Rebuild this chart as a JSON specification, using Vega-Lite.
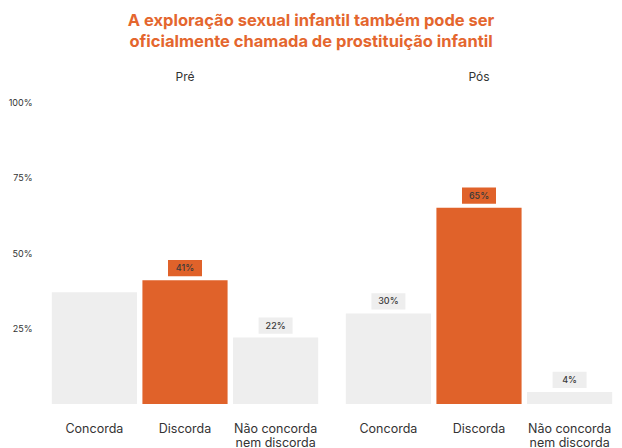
{
  "$schema": "https://vega.github.io/schema/vega-lite/v6.json",
  "background": "white",
  "padding": {"left": 8, "top": 12, "right": 5, "bottom": 0},
  "config": {
    "font": "Inter",
    "view": {"stroke": null},
    "title": {"font": "Inter"}
  },
  "title": {
    "text": ["A exploração sexual infantil também pode ser", "oficialmente chamada de prostituição infantil"],
    "color": "#E4662E",
    "fontSize": 16.5,
    "fontWeight": "bold",
    "lineHeight": 21,
    "anchor": "middle",
    "offset": 21
  },
  "data": {
    "values": [
      {"fase": "Pré", "resposta": "Concorda", "valor": 0.37, "rotulo": false},
      {"fase": "Pré", "resposta": "Discorda", "valor": 0.41, "rotulo": true},
      {"fase": "Pré", "resposta": "Não concorda|nem discorda", "valor": 0.22, "rotulo": true},
      {"fase": "Pós", "resposta": "Concorda", "valor": 0.30, "rotulo": true},
      {"fase": "Pós", "resposta": "Discorda", "valor": 0.65, "rotulo": true},
      {"fase": "Pós", "resposta": "Não concorda|nem discorda", "valor": 0.04, "rotulo": true}
    ]
  },
  "facet": {
    "column": {
      "field": "fase",
      "type": "nominal",
      "sort": ["Pré", "Pós"],
      "header": {
        "title": null,
        "labelFontSize": 12,
        "labelColor": "#333333",
        "labelPadding": 18
      }
    }
  },
  "spacing": 24,
  "spec": {
    "width": 270,
    "height": 302,
    "encoding": {
      "x": {
        "field": "resposta",
        "type": "nominal",
        "sort": ["Concorda", "Discorda", "Não concorda|nem discorda"],
        "scale": {"paddingInner": 0.06, "paddingOuter": 0.02},
        "axis": {
          "title": null,
          "labelAngle": 0,
          "domain": false,
          "ticks": false,
          "labelFontSize": 12.5,
          "labelColor": "#333333",
          "labelPadding": 18,
          "labelLineHeight": 14,
          "labelExpr": "split(datum.label, '|')"
        }
      },
      "y": {
        "field": "valor",
        "type": "quantitative",
        "scale": {"domain": [0, 1]},
        "axis": {
          "title": null,
          "values": [0.25, 0.5, 0.75, 1],
          "format": ".0%",
          "domain": false,
          "ticks": false,
          "grid": false,
          "labelFontSize": 9,
          "labelColor": "#333333",
          "labelPadding": 18
        }
      }
    },
    "layer": [
      {
        "mark": {"type": "bar"},
        "encoding": {
          "color": {
            "field": "resposta",
            "type": "nominal",
            "scale": {
              "domain": ["Concorda", "Discorda", "Não concorda|nem discorda"],
              "range": ["#EEEEEE", "#E0622A", "#EEEEEE"]
            },
            "legend": null
          }
        }
      },
      {
        "transform": [{"filter": "datum.rotulo"}],
        "mark": {
          "type": "point",
          "shape": "M-1,-0.48H1V0.48H-1Z",
          "size": 1156,
          "filled": true,
          "opacity": 1,
          "strokeWidth": 0,
          "yOffset": -12
        },
        "encoding": {
          "color": {
            "field": "resposta",
            "type": "nominal",
            "scale": {
              "domain": ["Concorda", "Discorda", "Não concorda|nem discorda"],
              "range": ["#EEEEEE", "#E0622A", "#EEEEEE"]
            },
            "legend": null
          }
        }
      },
      {
        "transform": [{"filter": "datum.rotulo"}],
        "mark": {
          "type": "text",
          "fontSize": 9,
          "fontWeight": 500,
          "color": "#3A3A3A",
          "baseline": "middle",
          "yOffset": -12
        },
        "encoding": {
          "text": {"field": "valor", "type": "quantitative", "format": ".0%"}
        }
      }
    ]
  }
}
